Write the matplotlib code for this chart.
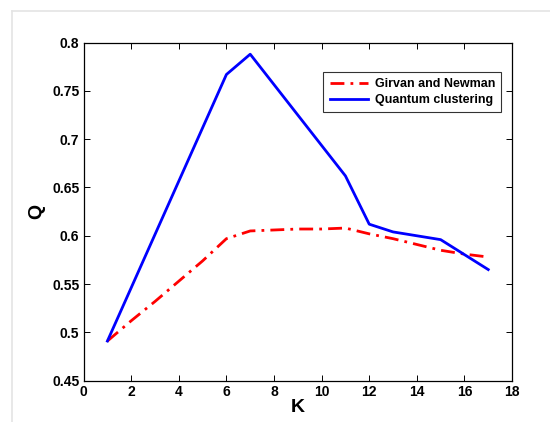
import numpy as np
import matplotlib
matplotlib.use("Agg")
import matplotlib.pyplot as plt
from matplotlib.lines import Line2D

# data
k_gn = [1, 2, 3, 4, 5, 6, 7, 8, 9, 10, 11, 12, 13, 14, 15, 16, 17]
q_gn = [0.491, 0.512, 0.532, 0.553, 0.574, 0.597, 0.605, 0.606, 0.607, 0.607,
        0.608, 0.602, 0.597, 0.591, 0.585, 0.581, 0.578]
k_qc = [1, 6, 7, 11, 12, 13, 15, 17]
q_qc = [0.491, 0.767, 0.788, 0.662, 0.612, 0.604, 0.596, 0.565]

x_ticks = np.arange(0, 19, 2)
y_ticks = [0.45, 0.5, 0.55, 0.6, 0.65, 0.7, 0.75, 0.8]
y_labels = ["0.45", "0.5", "0.55", "0.6", "0.65", "0.7", "0.75", "0.8"]

plt.rcParams["font.family"] = ["Liberation Sans", "DejaVu Sans"]
plt.rcParams["font.weight"] = "bold"

fig = plt.figure(figsize=(5.5, 4.22), dpi=100)
ax = fig.add_axes([0.152, 0.098, 0.779, 0.801])

# faint page border seen in the reference
fig.add_artist(Line2D([12 / 550, 1], [1 - 11 / 422, 1 - 11 / 422],
                      color="#e4e4e4", lw=1.2, transform=fig.transFigure))
fig.add_artist(Line2D([12 / 550, 12 / 550], [0, 1 - 11 / 422],
                      color="#e4e4e4", lw=1.2, transform=fig.transFigure))

ax.plot(k_gn, q_gn, color="red", lw=2.0, linestyle=(0, (5, 2.2, 1, 2.2)),
        label="Girvan and Newman")
ax.plot(k_qc, q_qc, color="blue", lw=2.0, label="Quantum clustering")

ax.set_xlim(0, 18)
ax.set_ylim(0.45, 0.8)
ax.set_xticks(x_ticks)
ax.set_yticks(y_ticks)
ax.set_yticklabels(y_labels)
ax.tick_params(direction="in", length=4, width=0.7, top=True, right=True,
               labelsize=10, pad=3, colors="black")
for s in ax.spines.values():
    s.set_linewidth(0.9)

ax.set_xlabel("K", fontsize=14, fontweight="bold", labelpad=0)
ax.set_ylabel("Q", fontsize=14, fontweight="bold", labelpad=5)

leg = ax.legend(loc="upper right", bbox_to_anchor=(0.975, 0.913), fontsize=9,
                frameon=True, fancybox=False, handlelength=3.1,
                borderpad=0.5, labelspacing=0.3, handletextpad=0.5,
                borderaxespad=0)
leg.get_frame().set_edgecolor("black")
leg.get_frame().set_linewidth(0.8)

fig.savefig("out.png", dpi=100)
